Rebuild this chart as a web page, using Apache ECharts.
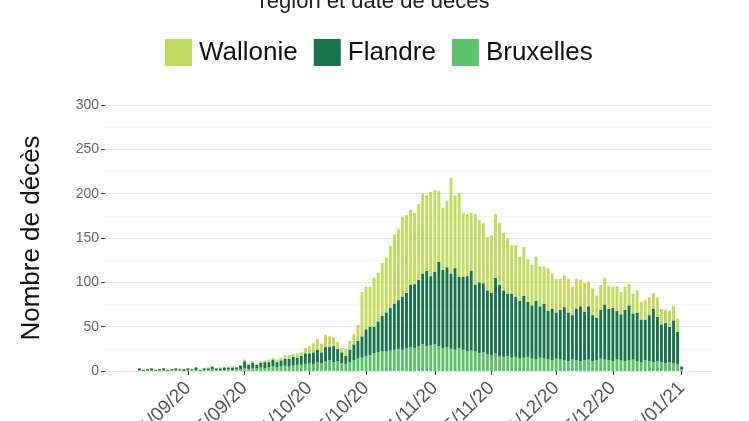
<!DOCTYPE html>
<html>
<head>
<meta charset="utf-8">
<script src="https://cdn.jsdelivr.net/npm/echarts@6/dist/echarts.min.js"></script>
<style>
  html, body { margin: 0; padding: 0; background: #fff; }
  #chart { width: 749px; height: 421px; }
</style>
</head>
<body>
<div id="chart"></div>
<script>
// axe du 12/08/20 au 08/01/21, données du 20/08/20 au 01/01/21
var startDate = new Date(2020, 7, 12);
var padBefore = 8;
var padAfter = 7;
var tickLabels = ['01/09/20', '15/09/20', '01/10/20', '15/10/20', '01/11/20',
                  '15/11/20', '01/12/20', '15/12/20', '01/01/21'];

var bruxelles = [
  1,0,1,1,0,1,1,0,1,1, 1,0,1,1,1,0,1,1,2,1, 1,1,2,1,2,2,3,2,3,3,
  4,3,4,5,4,5,6,5,6,7, 7,8,9,8,10,9,11,12,10,11, 9,8,10,12,14,15,17,18,20,21,
  22,22,23,24,25,24,26,27,26,28, 30,28,29,30,28,26,27,25,24,26, 24,22,23,22,20,21,19,18,20,17,
  16,17,15,16,14,15,16,14,13,15, 14,13,12,14,13,12,11,13,12,11, 12,13,11,12,14,13,12,11,13,12,
  11,12,13,11,10,12,11,10,11,10, 9,10,9,8,2
];
var flandre = [
  2,1,1,2,1,1,2,1,1,2, 1,2,2,1,3,1,2,2,3,2, 2,3,2,3,2,4,8,5,6,4,
  5,7,6,8,6,7,8,9,10,8, 10,12,11,13,14,12,16,15,18,14, 12,9,14,18,20,24,30,32,30,35,
  40,44,48,52,55,60,62,70,72,75, 80,85,78,82,95,88,90,85,92,80, 82,85,90,75,80,78,72,70,85,80,
  75,70,72,68,65,70,62,60,66,58, 62,55,58,52,56,60,55,50,58,62, 55,60,52,48,55,62,58,60,55,52,
  58,62,52,55,48,46,52,60,50,42, 45,40,48,36,3
];
var wallonie = [
  0,1,0,0,1,0,0,1,0,0, 1,0,0,1,0,1,0,1,1,0, 1,0,1,1,0,1,2,1,2,1,
  2,2,3,2,3,3,4,4,3,5, 4,6,8,10,12,10,14,12,10,8, 5,8,10,12,18,50,48,45,55,55,
  60,62,70,78,80,90,88,85,80,85, 90,85,95,92,80,70,75,108,82,95, 72,70,65,80,70,68,60,65,72,70,
  65,62,55,58,50,55,48,46,50,45, 42,48,40,38,35,36,38,32,34,30, 32,28,30,25,28,30,26,24,28,25,
  26,24,22,25,20,22,20,18,22,18, 15,18,16,15,1
];

function pad(n) { return (n < 10 ? '0' : '') + n; }
function padSeries(arr) {
  var out = [];
  for (var i = 0; i < padBefore; i++) out.push(null);
  out = out.concat(arr);
  for (var j = 0; j < padAfter; j++) out.push(null);
  return out;
}
var nbDays = padBefore + bruxelles.length + padAfter;
var dates = [];
for (var i = 0; i < nbDays; i++) {
  var d = new Date(startDate.getTime());
  d.setDate(d.getDate() + i);
  dates.push(pad(d.getDate()) + '/' + pad(d.getMonth() + 1) + '/' + String(d.getFullYear()).slice(2));
}
function isTick(idx, val) { return tickLabels.indexOf(val) >= 0; }

var chart = echarts.init(document.getElementById('chart'));
var font = 'Liberation Sans, Arial, sans-serif';
chart.setOption({
  animation: false,
  textStyle: { fontFamily: font },
  title: {
    text: 'région et date de décès',
    left: 'center', top: -14,
    textStyle: { fontSize: 22, fontWeight: 'normal', color: '#222' }
  },
  legend: {
    data: ['Wallonie', 'Flandre', 'Bruxelles'],
    left: 160, top: 34,
    icon: 'rect', itemWidth: 27, itemHeight: 27, itemGap: 16,
    textStyle: { fontSize: 26, color: '#111', padding: [0, 0, 0, 2] }
  },
  grid: { left: 105, right: 37, top: 105, bottom: 50, containLabel: false, outerBoundsMode: 'none' },
  xAxis: {
    type: 'category',
    data: dates,
    axisLine: { show: false },
    axisTick: { show: true, interval: isTick, alignWithLabel: true, length: 4, lineStyle: { color: '#444' } },
    axisLabel: { interval: isTick, rotate: 45, margin: 14, fontSize: 19, color: '#555' }
  },
  yAxis: {
    type: 'value',
    min: 0, max: 300, interval: 50,
    name: 'Nombre de décès',
    nameLocation: 'middle', nameGap: 60,
    nameTextStyle: { fontSize: 26, color: '#111' },
    axisLine: { show: false },
    axisTick: { show: true, length: 4, lineStyle: { color: '#444' } },
    axisLabel: { fontSize: 14, color: '#666', margin: 6 },
    splitLine: { lineStyle: { color: '#e6e6e6' } },
    minorTick: { show: false, splitNumber: 2 },
    minorSplitLine: { show: true, lineStyle: { color: '#f3f3f3' } }
  },
  series: [
    { name: 'Bruxelles', type: 'bar', stack: 'deces', data: padSeries(bruxelles), barWidth: '72%',
      itemStyle: { color: '#5cc468' } },
    { name: 'Flandre', type: 'bar', stack: 'deces', data: padSeries(flandre), barWidth: '72%',
      itemStyle: { color: '#18744a' } },
    { name: 'Wallonie', type: 'bar', stack: 'deces', data: padSeries(wallonie), barWidth: '72%',
      itemStyle: { color: '#c2db5c' } }
  ]
});
</script>
</body>
</html>
